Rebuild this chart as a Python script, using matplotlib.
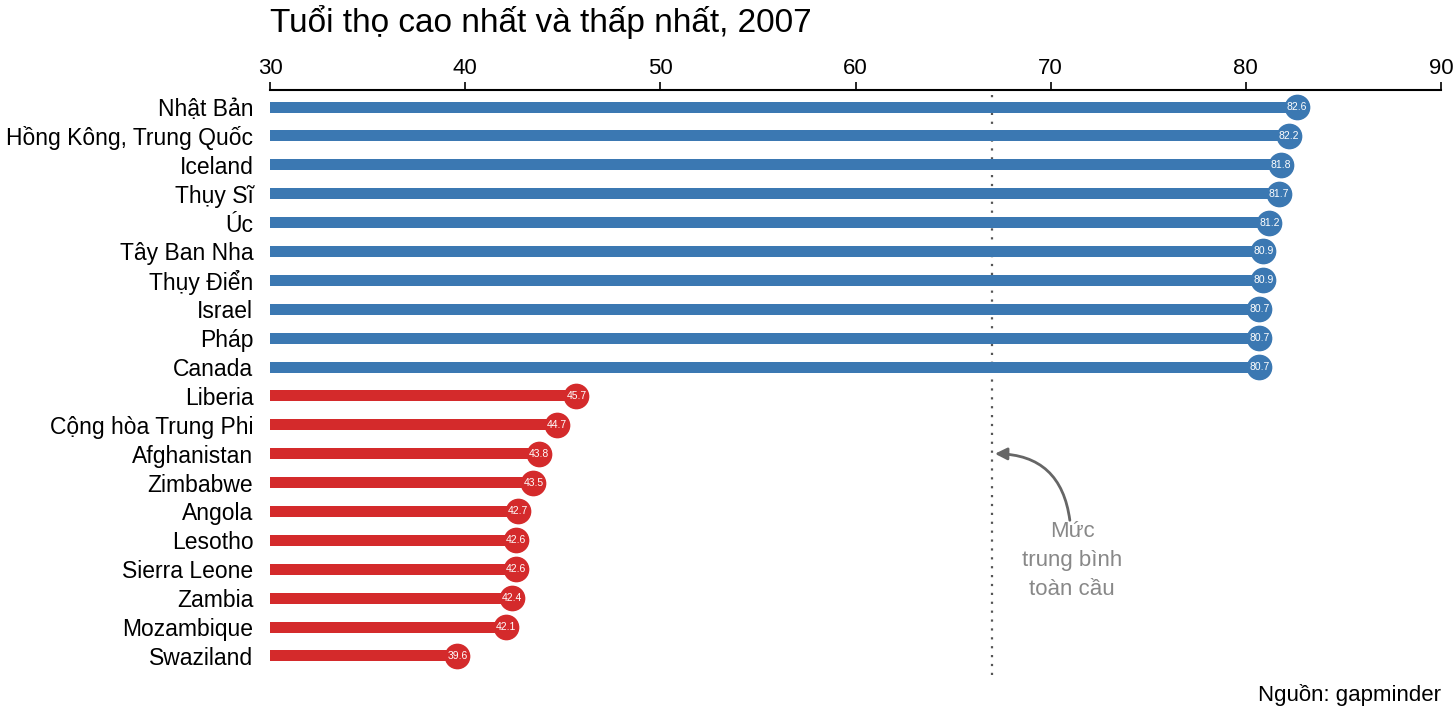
import matplotlib
matplotlib.use("Agg")
import matplotlib.pyplot as plt

countries = ["Nhật Bản", "Hồng Kông, Trung Quốc", "Iceland", "Thụy Sĩ", "Úc", "Tây Ban Nha",
             "Thụy Điển", "Israel", "Pháp", "Canada", "Liberia", "Cộng hòa Trung Phi",
             "Afghanistan", "Zimbabwe", "Angola", "Lesotho", "Sierra Leone", "Zambia",
             "Mozambique", "Swaziland"]
values = [82.6, 82.2, 81.8, 81.7, 81.2, 80.9, 80.9, 80.7, 80.7, 80.7,
          45.7, 44.7, 43.8, 43.5, 42.7, 42.6, 42.6, 42.4, 42.1, 39.6]
groups = ["high"] * 10 + ["low"] * 10
global_mean = 67.0
xticks = [30, 40, 50, 60, 70, 80, 90]

plt.rcParams['font.family'] = ['Liberation Sans', 'DejaVu Sans']
colors = {"high": "#3b78b2", "low": "#d42a2b"}

fig = plt.figure(figsize=(14.56, 7.2), dpi=100)
ax = fig.add_axes([270/1456, 45/720, (1441-270)/1456, (675-90)/720])
for i, (c, v, g) in enumerate(zip(countries, values, groups)):
    col = colors[g]
    ax.barh(i, v - 30, left=30, height=0.38, color=col, zorder=2)
    ax.plot(v, i, 'o', ms=17.5, color=col, zorder=3)
    ax.text(v, i, f"{v:.1f}", ha='center', va='center', color='white', fontsize=7.5, zorder=4)

ax.axvline(global_mean, color='#555555', ls=(0, (1, 3)), lw=1.6, zorder=1)
ax.set_xlim(30, 90)
ax.set_ylim(19.66, -0.59)
ax.set_yticks(range(len(countries)))
ax.set_yticklabels(countries, fontsize=16.5)
ax.tick_params(axis='y', length=0, pad=12)
ax.xaxis.tick_top()
ax.set_xticks(xticks)
ax.set_xticklabels([str(t) for t in xticks], fontsize=16)
ax.tick_params(axis='x', length=6, width=1.2, pad=2)
for s in ['left', 'right', 'bottom']:
    ax.spines[s].set_visible(False)
ax.spines['top'].set_linewidth(1.5)

ax.annotate("", xy=(global_mean, 12.0), xytext=(71, 14.4),
            arrowprops=dict(arrowstyle='-|>', color='#666666', lw=2,
                            connectionstyle="arc3,rad=0.45", mutation_scale=18))
ax.text(71.1, 15.7, "Mức\ntrung bình\ntoàn cầu", ha='center', va='center',
        fontsize=16, color='#888888', linespacing=1.5)

fig.text(270/1456, 1 - 22/720, "Tuổi thọ cao nhất và thấp nhất, 2007", fontsize=24,
         va='center', ha='left')
fig.text(1441/1456, 1 - 695/720, "Nguồn: gapminder", fontsize=16, ha='right', va='center')
fig.savefig("out.png", dpi=100, facecolor='white')
